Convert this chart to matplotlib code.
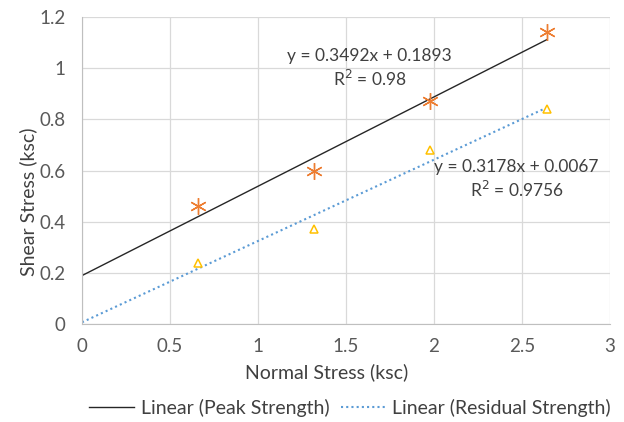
import numpy as np
import matplotlib
matplotlib.use("Agg")
from matplotlib import pyplot as plt

# values
normal_stress = [0.66, 1.32, 1.98, 2.64]
peak_strength = [0.46, 0.60, 0.87, 1.14]
residual_strength = [0.24, 0.37, 0.68, 0.84]

peak_fit = (0.3492, 0.1893)
residual_fit = (0.3178, 0.0067)

x_ticks = [0, 0.5, 1, 1.5, 2, 2.5, 3]
y_ticks = [0, 0.2, 0.4, 0.6, 0.8, 1, 1.2]

plt.rcParams['font.family'] = ['Lato', 'DejaVu Sans']

fig = plt.figure(figsize=(6.24, 4.22), dpi=100)
ax = fig.add_axes([0.1314, 0.2322, 0.8462, 0.7275])

ax.set_xlim(0, 3)
ax.set_ylim(0, 1.2)
ax.set_xticks(x_ticks)
ax.set_yticks(y_ticks)
ax.set_xticklabels([f"{t:g}" for t in x_ticks])
ax.set_yticklabels([f"{t:g}" for t in y_ticks])
ax.grid(True, color="#d9d9d9", linewidth=0.9)
ax.set_axisbelow(True)
for side in ["top", "right"]:
    ax.spines[side].set_visible(False)
for side in ["left", "bottom"]:
    ax.spines[side].set_color("#bfbfbf")
ax.tick_params(length=0, colors="#595959", labelsize=13.5)
ax.tick_params(axis="x", pad=10)
ax.tick_params(axis="y", pad=12)

xs = np.array([0, max(normal_stress)])
l1, = ax.plot(xs, peak_fit[0] * xs + peak_fit[1], color="#262626", linewidth=1.0,
              label="Linear (Peak Strength)")
l2, = ax.plot(xs, residual_fit[0] * xs + residual_fit[1], color="#5b9bd5", linewidth=1.5,
              linestyle=(0, (1, 1.5)), label="Linear (Residual Strength)")

ax.plot(normal_stress, peak_strength, linestyle="none", marker=(6, 2, 0), markersize=12,
        color="#ed7d31", markeredgewidth=1.0, clip_on=False)
ax.plot(normal_stress, residual_strength, linestyle="none", marker="^", markersize=6,
        markerfacecolor="white", markeredgecolor="#ffc000", markeredgewidth=1.1, clip_on=False)

ax.text(1.635, 1.0, "y = 0.3492x + 0.1893\nR$^2$ = 0.98", ha="center", va="center",
        fontsize=12.5, color="#404040", linespacing=1.3)
ax.text(2.47, 0.565, "y = 0.3178x + 0.0067\nR$^2$ = 0.9756", ha="center", va="center",
        fontsize=12.5, color="#404040", linespacing=1.3)

ax.set_xlabel("Normal Stress (ksc)", fontsize=14, color="#404040")
ax.set_ylabel("Shear Stress (ksc)", fontsize=14, color="#404040")
ax.xaxis.set_label_coords(0.464, -0.156)
ax.yaxis.set_label_coords(-0.102, 0.397)
ax.xaxis.label.set_va("center")
ax.yaxis.label.set_va("center")

fig.legend(handles=[l1, l2], loc="center", bbox_to_anchor=(0.561, 0.033), ncol=2,
           frameon=False, fontsize=14, labelcolor="#404040", handlelength=2.3,
           handletextpad=0.35, columnspacing=0.6)

fig.savefig("out.png", dpi=100)
